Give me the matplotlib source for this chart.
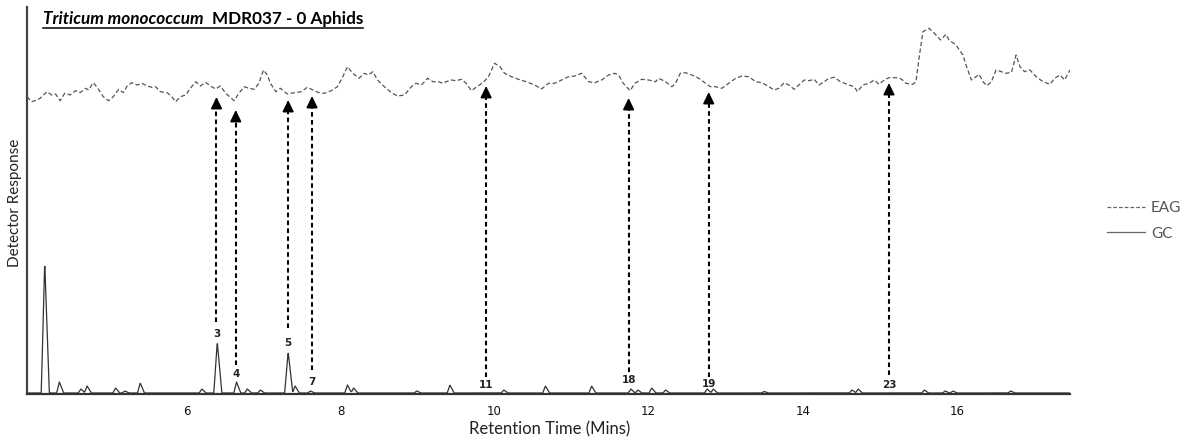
import numpy as np
import matplotlib
matplotlib.use("Agg")
import matplotlib.pyplot as plt
from matplotlib.lines import Line2D

# ---------------- data ----------------
# GC peaks: retention time (min), height (detector units)
gc_peak_time = [4.16, 4.35, 4.63, 4.71, 5.08, 5.20, 5.40, 6.20, 6.40, 6.65, 6.79, 6.96,
                7.32, 7.41, 7.61, 8.09, 8.17, 8.99, 9.42, 10.12, 10.66, 11.26, 11.77,
                11.86, 12.04, 12.22, 12.76, 12.84, 13.50, 14.64, 14.72, 15.58, 15.85,
                15.95, 16.70]
gc_peak_height = [131, 11, 4, 7, 5, 2, 10, 4, 51, 11, 4, 3,
                  41, 7, 2, 8, 5, 2, 8, 3, 7, 7, 4,
                  3, 5, 3, 4, 4, 1.5, 3, 4, 3, 2,
                  2, 2]
gc_baseline = 1.0

# EAG trace: retention time (min), response (offset units)
eag_time = [3.93, 3.99, 4.06, 4.10, 4.19, 4.25, 4.30, 4.36, 4.42, 4.49, 4.56, 4.62, 4.69,
            4.73, 4.79, 4.85, 4.92, 4.99, 5.05, 5.12, 5.18, 5.23, 5.29, 5.36, 5.42, 5.49,
            5.55, 5.60, 5.66, 5.75, 5.81, 5.86, 5.92, 5.99, 6.05, 6.12, 6.18, 6.25, 6.31,
            6.38, 6.44, 6.51, 6.60, 6.62, 6.68, 6.75, 6.81, 6.88, 6.94, 7.00, 7.05, 7.09,
            7.16, 7.22, 7.31, 7.40, 7.49, 7.57, 7.66, 7.72, 7.79, 7.88, 7.96, 8.03, 8.09,
            8.16, 8.24, 8.31, 8.36, 8.42, 8.48, 8.57, 8.66, 8.74, 8.83, 8.92, 8.98, 9.05,
            9.13, 9.20, 9.27, 9.33, 9.37, 9.44, 9.50, 9.57, 9.63, 9.70, 9.76, 9.85, 9.92,
            10.00, 10.07, 10.13, 10.22, 10.31, 10.41, 10.52, 10.61, 10.70, 10.78, 10.87,
            10.96, 11.04, 11.13, 11.22, 11.30, 11.39, 11.48, 11.56, 11.61, 11.67, 11.76,
            11.82, 11.91, 12.00, 12.09, 12.13, 12.22, 12.30, 12.35, 12.41, 12.48, 12.56,
            12.65, 12.74, 12.80, 12.87, 12.95, 13.04, 13.13, 13.21, 13.30, 13.39, 13.47,
            13.56, 13.63, 13.69, 13.76, 13.82, 13.89, 13.95, 14.02, 14.08, 14.15, 14.21,
            14.28, 14.34, 14.41, 14.49, 14.60, 14.67, 14.71, 14.78, 14.86, 14.93, 14.99,
            15.06, 15.12, 15.21, 15.28, 15.34, 15.43, 15.47, 15.51, 15.56, 15.64, 15.71,
            15.79, 15.86, 15.90, 15.99, 16.08, 16.12, 16.19, 16.25, 16.29, 16.34, 16.39,
            16.45, 16.51, 16.58, 16.64, 16.71, 16.77, 16.82, 16.88, 16.95, 17.03, 17.12,
            17.21, 17.27, 17.34, 17.40, 17.47]
eag_value = [297.3, 292.3, 294, 295.7, 302.3, 299, 300, 293.3, 300.7, 299, 303.3, 301.3, 305.7,
             304, 311.3, 305.7, 297.3, 293.3, 297.3, 304.7, 301.3, 308, 311.3, 309, 310.7, 308,
             306.7, 307.3, 302.3, 301.3, 297.3, 292.3, 297.3, 299, 305.7, 312.3, 308, 311.7, 308,
             305, 308, 300.7, 294.7, 293.3, 300.7, 307.3, 305.7, 304.7, 310.7, 324, 319, 310.7,
             302.3, 305.7, 300, 301.3, 302.3, 306.7, 303.3, 301.3, 300.7, 303.3, 307.3, 317.3, 327.3,
             320.7, 315.7, 320.7, 319, 322.3, 314, 307.3, 301.3, 298, 299, 307.3, 310.7, 309,
             315.7, 312.3, 312.3, 310.7, 312.3, 314, 313.3, 314.7, 310.7, 303.3, 306.7, 311.3, 317.3,
             330.7, 327.3, 320.7, 317.3, 314.7, 312.3, 309, 305, 310.7, 310.7, 314,
             317.3, 318, 320.7, 312.3, 311.3, 314, 319, 320.7, 319, 310.7, 303.3,
             310.7, 314.7, 314, 312.3, 315.7, 312.3, 307.3, 310.7, 320.7, 321.3, 319,
             315.7, 310.7, 307.3, 307.3, 305.7, 310.7, 315.7, 318, 317.3, 312.3, 311.3,
             307.3, 304, 305.7, 311.3, 309, 304.7, 309, 314, 313.3, 314.7, 309,
             312.3, 315.7, 316.7, 312.3, 309, 307.3, 302.3, 309, 310.7, 314, 309.7,
             314, 316.3, 316.3, 315, 310.7, 309.7, 312.3, 335.7, 362.3, 365.7, 360.7,
             354, 359.7, 354, 349, 339, 329, 314, 317.3, 319.7, 312.3, 308.3,
             312.3, 324, 322.3, 320.7, 321.7, 339, 327.3, 322.3, 324, 317.3, 312.3,
             309.7, 315.7, 319, 314, 324]

# EAG-active compounds (arrows)
arrow_label = ["3", "4", "5", "7", "11", "18", "19", "23"]
arrow_time = [6.39, 6.64, 7.32, 7.63, 9.89, 11.74, 12.78, 15.12]
arrow_tip = [297, 284, 294, 298, 308, 296, 302, 311]
arrow_base = [72, 29, 66, 24, 17, 22, 17, 19]
label_y = [60, 20, 51, 12, 9, 14, 10, 9]

xticks = [6, 8, 10, 12, 14, 16]

# ---------------- figure ----------------
W, H = 1192, 442
fig = plt.figure(figsize=(W / 100, H / 100), dpi=100)
ax = fig.add_axes([27 / W, 1 - 394 / H, (1070 - 27) / W, (394 - 7) / H])

# GC trace built from the peak table
grid = np.arange(3.93, 17.475, 0.004)
gc = np.full_like(grid, gc_baseline)
for t, h in zip(gc_peak_time, gc_peak_height):
    hw_l = 0.035 if h < 20 else 0.045
    hw_r = 0.055 if h < 20 else 0.06
    gc += np.interp(grid, [t - hw_l, t, t + hw_r], [0, h, 0], left=0, right=0)

ax.plot(grid, gc, color="#333333", lw=0.9)
ax.plot(eag_time, eag_value, color="#555555", lw=0.9, dashes=(3.5, 2.0))

for lab, t, tip, base, ly in zip(arrow_label, arrow_time, arrow_tip, arrow_base, label_y):
    ax.plot([t, t], [base, tip - 9], color="black", lw=1.5, dashes=(2.2, 1.6))
    ax.annotate("", xy=(t, tip), xytext=(t, tip - 11),
                arrowprops=dict(arrowstyle="-|>,head_length=0.7,head_width=0.34",
                                color="black", lw=1.2, shrinkA=0, shrinkB=0))
    ax.text(t, ly, lab, ha="center", va="center", fontsize=7.5, fontweight="bold",
            color="#222222")

ax.set_xlim(3.93, 17.47)
ax.set_ylim(0, 387)
ax.set_xticks(xticks)
ax.set_xticklabels([str(v) for v in xticks], fontsize=8.5, color="#111111")
ax.tick_params(axis="x", length=0, pad=8)
ax.set_yticks([])
for s in ["top", "right"]:
    ax.spines[s].set_visible(False)
ax.spines["left"].set_color("#444444")
ax.spines["left"].set_linewidth(1.6)
ax.spines["bottom"].set_color("#333333")
ax.spines["bottom"].set_linewidth(1.6)

fig.text(550 / W, 1 - 429 / H, "Retention Time (Mins)", ha="center", va="center",
         fontsize=12, family="Lato", color="#222222")
fig.text(15 / W, 1 - 203 / H, "Detector Response", ha="center", va="center",
         rotation=90, fontsize=11, family="Lato", color="#222222")

# legend
h_eag = Line2D([], [], color="#666666", lw=0.9, dashes=(3.0, 1.6))
h_gc = Line2D([], [], color="#666666", lw=0.9)
fig.legend([h_eag, h_gc], ["EAG", "GC"], loc="center left",
           bbox_to_anchor=(1093 / W, 1 - 221 / H), frameon=False,
           handlelength=2.5, handletextpad=0.4, labelspacing=0.75,
           prop=dict(family="Lato", size=11), labelcolor="#555555")

# title with underline
t1 = fig.text(43 / W, 1 - 24 / H, "Triticum monococcum", ha="left", va="baseline",
              fontsize=12.3, family="Lato", fontweight="bold", style="italic",
              color="#000000")
fig.canvas.draw()
r = fig.canvas.get_renderer()
bb1 = t1.get_window_extent(r)
t2 = fig.text((bb1.x1 + 8) / W, 1 - 24 / H, "MDR037 - 0 Aphids", ha="left",
              va="baseline", fontsize=12.3, family="Lato", fontweight="bold",
              color="#000000")
fig.canvas.draw()
bb2 = t2.get_window_extent(r)
fig.add_artist(Line2D([bb1.x0 / W, bb2.x1 / W], [1 - 27.5 / H, 1 - 27.5 / H],
                      color="#000000", lw=1.1))

fig.savefig("out.png", dpi=100)
